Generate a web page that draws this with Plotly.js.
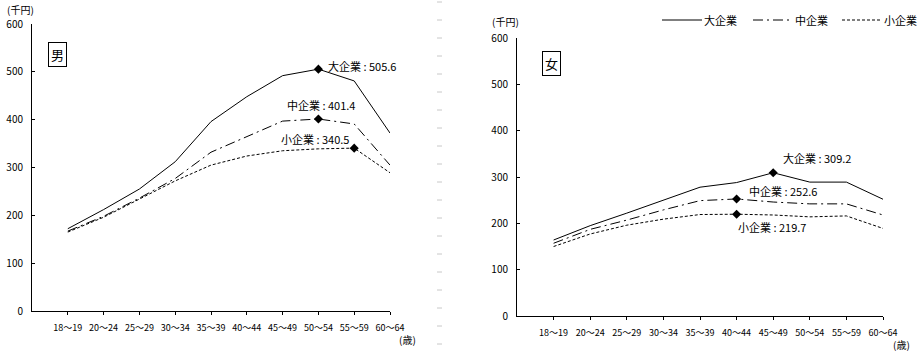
<!DOCTYPE html>
<html><head><meta charset="utf-8">
<script src="https://cdn.plot.ly/plotly-3.0.1.min.js"></script>
<style>html,body{margin:0;padding:0;background:#fff}#chart{width:921px;height:354px}</style>
</head><body><div id="chart"></div>
<script>
var ages = ["18～19","20～24","25～29","30～34","35～39","40～44","45～49","50～54","55～59","60～64"];
var seriesNames = ["大企業","中企業","小企業"];
var maleLarge = [172, 212, 255, 312, 396, 448, 492, 505.6, 481, 372];
var maleMid   = [167, 198, 236, 277, 332, 365, 397, 401.4, 391, 305];
var maleSmall = [165, 196, 234, 272, 305, 324, 335, 339, 340.5, 289];
var femaleLarge = [164, 195, 222, 250, 278, 288, 309.2, 289, 289, 252];
var femaleMid   = [157, 187, 207, 229, 249, 252.6, 246, 242, 242, 218];
var femaleSmall = [150, 177, 196, 209, 219, 219.7, 218, 214, 216, 189];
var maleHighlight = [7, 7, 8];
var femaleHighlight = [6, 5, 5];

var FONT = "'Noto Sans CJK JP', 'Noto Sans', sans-serif";
var dashes = ["solid", "10px,4px,2px,4px", "3px,2px"];
var traces = [];
function addPanel(vals, hl, xa, ya) {
  for (var i = 0; i < 3; i++) {
    traces.push({x: ages, y: vals[i], xaxis: xa, yaxis: ya, type: 'scatter', mode: 'lines',
      line: {color: '#000', width: 1, dash: dashes[i]}, showlegend: false, hoverinfo: 'skip'});
    traces.push({x: [ages[hl[i]]], y: [vals[i][hl[i]]], xaxis: xa, yaxis: ya, type: 'scatter', mode: 'markers',
      marker: {symbol: 'diamond', size: 7, color: '#000'}, showlegend: false, hoverinfo: 'skip'});
  }
}
addPanel([maleLarge, maleMid, maleSmall], maleHighlight, 'x', 'y');
addPanel([femaleLarge, femaleMid, femaleSmall], femaleHighlight, 'x2', 'y2');

var W = 921, H = 354;
function px(v){return v / W;}
function py(v){return 1 - v / H;}

function xaxisDef(d0, d1, anchor) {
  return {domain: [px(d0), px(d1)], anchor: anchor, type: 'category', range: [-1, 9],
    showline: true, linecolor: '#000', linewidth: 1, ticks: 'outside', ticklen: 3, tickcolor: '#000',
    showgrid: false, zeroline: false, tickfont: {family: FONT, size: 9, color: '#000'},
    ticklabelstandoff: 5, fixedrange: true};
}
function yaxisDef(top, bottom, anchor) {
  return {domain: [py(bottom), py(top)], anchor: anchor, range: [0, 600], tickvals: [0,100,200,300,400,500,600],
    showline: true, linecolor: '#000', linewidth: 1, ticks: 'inside', ticklen: 3, tickcolor: '#000',
    showgrid: false, zeroline: false, tickfont: {family: FONT, size: 10, color: '#000'},
    ticklabelstandoff: 6, fixedrange: true};
}

var ann = [];
function txt(t, x, y, opts) {
  var a = {text: t, xref: 'paper', yref: 'paper', x: px(x), y: py(y), showarrow: false,
    xanchor: 'left', yanchor: 'middle', font: {family: FONT, size: 11, color: '#000'}};
  for (var k in opts) a[k] = opts[k];
  ann.push(a);
}
txt("(千円)", 5, 9, {font: {family: FONT, size: 10, color: '#000'}});
txt("(千円)", 490, 22, {font: {family: FONT, size: 10, color: '#000'}});
txt("(歳)", 397, 339, {font: {family: FONT, size: 10, color: '#000'}});
txt("(歳)", 891, 344, {font: {family: FONT, size: 10, color: '#000'}});
txt("男", 57, 55, {xanchor: 'center', bordercolor: '#000', borderwidth: 1, borderpad: 2, font: {family: FONT, size: 13, color: '#000'}});
txt("女", 551.5, 63.5, {xanchor: 'center', bordercolor: '#000', borderwidth: 1, borderpad: 2, font: {family: FONT, size: 13, color: '#000'}});

function valAnn(xa, ya, vals, hl, i, xanchor, xshift, yshift) {
  var v = vals[i][hl[i]];
  ann.push({text: seriesNames[i] + " : " + v.toFixed(1), xref: xa, yref: ya, x: ages[hl[i]], y: v,
    showarrow: false, xanchor: xanchor, yanchor: 'middle', xshift: xshift, yshift: yshift,
    font: {family: FONT, size: 11, color: '#000'}});
}
var mv = [maleLarge, maleMid, maleSmall], fv = [femaleLarge, femaleMid, femaleSmall];
valAnn('x', 'y', mv, maleHighlight, 0, 'left', 8, 3);
valAnn('x', 'y', mv, maleHighlight, 1, 'center', 3, 14);
valAnn('x', 'y', mv, maleHighlight, 2, 'right', -3, 9);
valAnn('x2', 'y2', fv, femaleHighlight, 0, 'left', 8, 15);
valAnn('x2', 'y2', fv, femaleHighlight, 1, 'left', 10, 8);
valAnn('x2', 'y2', fv, femaleHighlight, 2, 'left', -1, -13);

// legend (drawn manually)
var shapes = [];
var legX = [662, 753, 842];
for (var i = 0; i < 3; i++) {
  shapes.push({type: 'line', xref: 'paper', yref: 'paper', x0: px(legX[i]), x1: px(legX[i] + 40), y0: py(20), y1: py(20),
    line: {color: '#000', width: 1, dash: dashes[i]}});
  txt(seriesNames[i], legX[i] + 40, 20);
}
// page separator
for (var yy = 2; yy < 350; yy += 18) {
  shapes.push({type: 'line', xref: 'paper', yref: 'paper', x0: px(437), x1: px(442), y0: py(yy), y1: py(yy),
    line: {color: '#c8c8c8', width: 1}});
}

var layout = {width: W, height: H, autosize: false, margin: {l: 0, r: 0, t: 0, b: 0},
  paper_bgcolor: '#fff', plot_bgcolor: 'rgba(0,0,0,0)', showlegend: false,
  font: {family: FONT, color: '#000'},
  xaxis: xaxisDef(32, 390, 'y'), yaxis: yaxisDef(24, 311, 'x'),
  xaxis2: xaxisDef(517, 883, 'y2'), yaxis2: yaxisDef(38, 316, 'x2'),
  annotations: ann, shapes: shapes};
Plotly.newPlot('chart', traces, layout, {displayModeBar: false, staticPlot: true});
</script></body></html>
